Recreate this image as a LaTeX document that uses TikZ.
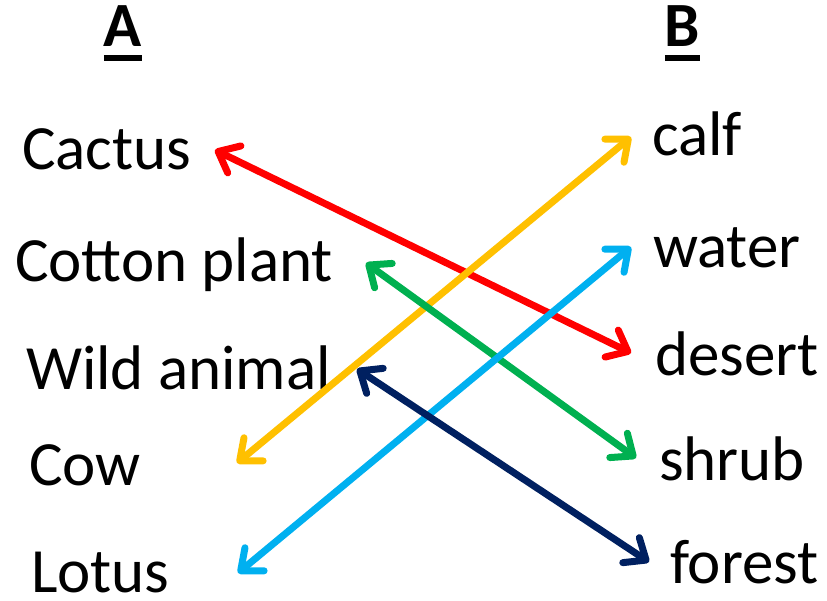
\documentclass[tikz,border=0pt]{standalone}
\usepackage{fontspec}
\setmainfont{Carlito}
\usetikzlibrary{arrows.meta}
\definecolor{cred}{HTML}{FF0000}
\definecolor{cyellow}{HTML}{FFC000}
\definecolor{cgreen}{HTML}{00B050}
\definecolor{ccyan}{HTML}{00B0F0}
\definecolor{cnavy}{HTML}{002060}
\tikzset{
  lbl/.style={inner sep=0pt, outer sep=0pt, anchor=base west, font=\fontsize{63}{70}\selectfont},
  hdr/.style={inner sep=0pt, outer sep=0pt, anchor=base, font=\fontsize{63}{70}\selectfont\bfseries},
  uline/.style={line width=6pt},
  link/.style={line width=7pt, line cap=round,
    {Straight Barb[length=18pt, width=30pt, line cap=round, line join=round]}-{Straight Barb[length=18pt, width=30pt, line cap=round, line join=round]}}
}
\begin{document}
\begin{tikzpicture}[x=1pt, y=-1pt]
\useasboundingbox (0,0) rectangle (827,601);
% headers
\node[hdr] (hA) at (123,47) {A};
\node[hdr] (hB) at (682.5,47) {B};
\draw[uline] ([yshift=-11.5pt]hA.base west) -- ([yshift=-11.5pt]hA.base east);
\draw[uline] ([yshift=-11.5pt]hB.base west) -- ([yshift=-11.5pt]hB.base east);
% column A
\node[lbl] (cactus) at (22,170) {Cactus};
\node[lbl] (cotton) at (15,282) {Cotton plant};
\node[lbl] (wild) at (26,389) {Wild animal};
\node[lbl] (cow) at (29,485) {Cow};
\node[lbl] (lotus) at (31,592) {Lotus};
% column B
\node[lbl] (calf) at (652,156) {calf};
\node[lbl] (water) at (653,268) {water};
\node[lbl] (desert) at (655,375) {desert};
\node[lbl] (shrub) at (659,480) {shrub};
\node[lbl] (forest) at (670,583) {forest};
% arrow ends
\coordinate (pCactus) at (215,150);
\coordinate (pDesert) at (631,353);
\coordinate (pCow) at (237,463);
\coordinate (pCalf) at (631,137);
\coordinate (pCotton) at (366,263);
\coordinate (pShrub) at (636,458);
\coordinate (pLotus) at (238,573);
\coordinate (pWater) at (631,247);
\coordinate (pWild) at (357,369);
\coordinate (pForest) at (649,562);
% connectors
\draw[link, cred] (pCactus) -- (pDesert);
\draw[link, cyellow] (pCow) -- (pCalf);
\draw[link, cgreen] (pCotton) -- (pShrub);
\draw[link, ccyan] (pLotus) -- (pWater);
\draw[link, cnavy] (pWild) -- (pForest);
\end{tikzpicture}
\end{document}
